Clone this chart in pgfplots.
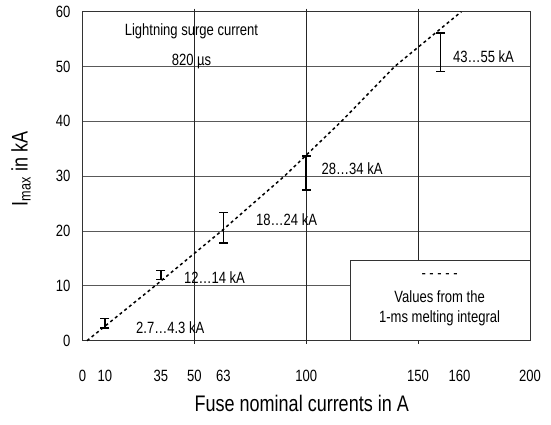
\documentclass[border=0pt]{standalone}
\usepackage{pgfplots}
\pgfplotsset{compat=1.18}
\usepackage{fontspec}
\setmainfont{Liberation Sans}[FakeStretch=0.8]
\begin{document}
\fontsize{16.3bp}{19bp}\selectfont
\begin{tikzpicture}
\begin{axis}[
  scale only axis, width=447.5bp, height=329bp,
  xmin=0, xmax=200, ymin=0, ymax=60,
  axis line style={black!80, line width=1bp},
  xtick={0,10,35,50,63,100,150,160,200},
  xticklabels={0,10,35,50,63,100,150,\hspace*{38bp}160,200},
  ytick={0,10,...,60},
  major tick length=0pt,
  ymajorgrids,
  grid style={black!65, line width=0.9bp},
  extra x ticks={50,100,150},
  extra x tick labels={},
  extra x tick style={grid=major, major tick length=3bp, tick align=outside,
    tick style={black!85, line width=0.9bp},
    major grid style={black!85, line width=0.9bp}},
  /pgf/number format/assume math mode=true,
  xticklabel style={yshift=-24bp},
  yticklabel style={xshift=-6.6bp},
  xlabel={Fuse nominal currents in A},
  ylabel={I\textsubscript{max} in kA},
  xlabel style={at={(axis description cs:0.49,-0.1915)}, anchor=center,
    font=\fontsize{22.5bp}{26bp}\selectfont},
  ylabel style={at={(axis description cs:-0.1374,0.522)}, anchor=center,
    font=\fontsize{22.5bp}{26bp}\selectfont},
  clip=false,
]
\coordinate (SW) at (rel axis cs:0,0);
\coordinate (NE) at (rel axis cs:1,1);
% dashed line: values from the 1-ms melting integral
\addplot[black, line width=1.5bp, dash pattern=on 3bp off 3bp]
  coordinates {(2,0) (32.4,10) (62.1,20) (90.2,30) (115.7,40) (139.5,50) (169.3,60)};
% ranges
\addplot[black, line width=1.8bp, mark=-, mark size=4.5bp, mark options={line width=1.2bp}]
  coordinates {(10,2.3) (10,4.0)};
\addplot[black, line width=1.8bp, mark=-, mark size=4.5bp, mark options={line width=1.2bp}]
  coordinates {(35,11.1) (35,12.8)};
\addplot[black, line width=1.8bp, mark=-, mark size=4.5bp, mark options={line width=1.2bp}]
  coordinates {(63,17.8) (63,23.4)};
\addplot[black, line width=1.8bp, mark=-, mark size=4.5bp, mark options={line width=1.2bp}]
  coordinates {(100,27.5) (100,33.7)};
\addplot[black, line width=1.8bp, mark=-, mark size=4.5bp, mark options={line width=1.2bp}]
  coordinates {(160,49.1) (160,56.1)};
% legend box
\draw[black!80, line width=1bp, fill=white] (axis cs:119.8,0) rectangle (axis cs:200,14.6);
\node[align=center, inner sep=0] at (axis cs:159.6,11.8) {- - - - -};
\node[align=center, inner sep=0] at (axis cs:159.6,8.0) {Values from the};
\node[align=center, inner sep=0] at (axis cs:159.6,4.1) {1-ms melting integral};
% titles / labels
\node[align=center, inner sep=0] at (axis cs:48.7,56.4) {Lightning surge current};
\node[align=center, inner sep=0] at (axis cs:48.7,50.9) {820 µs};
\node[anchor=west, inner sep=0] at (axis cs:23.9,2.4) {2.7…4.3 kA};
\node[anchor=west, inner sep=0] at (axis cs:45.3,11.6) {12…14 kA};
\node[anchor=west, inner sep=0] at (axis cs:77.5,22.1) {18…24 kA};
\node[anchor=west, inner sep=0] at (axis cs:106.8,31.3) {28…34 kA};
\node[anchor=west, inner sep=0] at (axis cs:165.5,51.8) {43…55 kA};
\end{axis}
\path ([shift={(-82.5bp,-84.3bp)}]SW) rectangle ([shift={(21bp,11.7bp)}]NE);
\end{tikzpicture}
\end{document}
